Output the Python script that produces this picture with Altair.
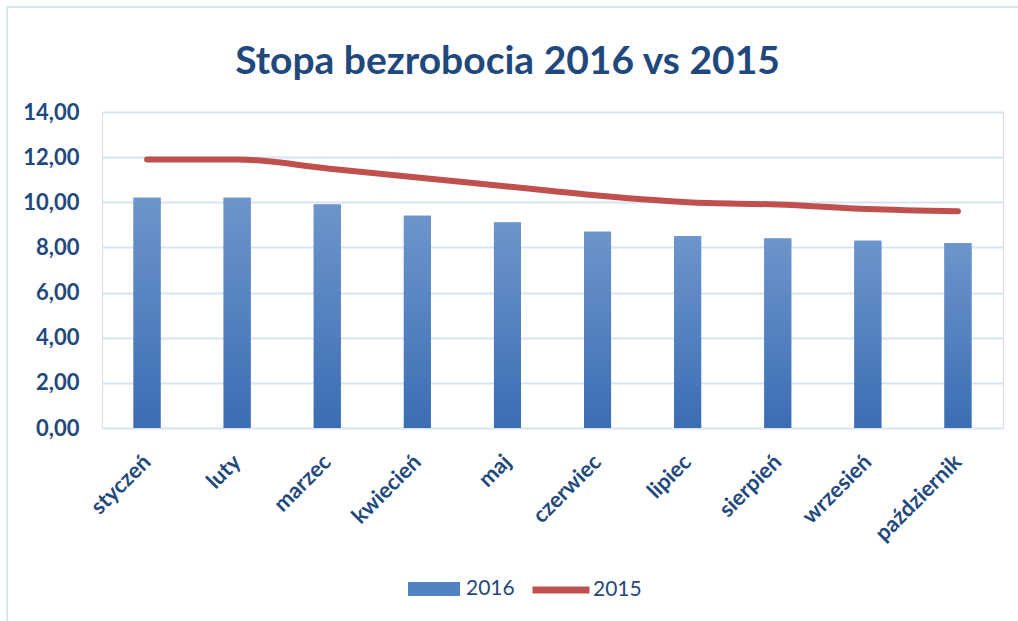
import altair as alt
import pandas as pd

months = ["styczeń", "luty", "marzec", "kwiecień", "maj", "czerwiec",
          "lipiec", "sierpień", "wrzesień", "październik"]
v2016 = [10.2, 10.2, 9.9, 9.4, 9.1, 8.7, 8.5, 8.4, 8.3, 8.2]
v2015 = [11.9, 11.9, 11.5, 11.1, 10.7, 10.3, 10.0, 9.9, 9.7, 9.6]
y_ticks = [0, 2, 4, 6, 8, 10, 12, 14]

df16 = pd.DataFrame({"miesiac": months, "wartosc": v2016, "seria": "2016"})
df15 = pd.DataFrame({"miesiac": months, "wartosc": v2015, "seria": "2015"})

DARK = "#1F497D"
FONT = "Lato"

x_enc = alt.X("miesiac:N", sort=months, title=None,
              axis=alt.Axis(labelAngle=-45, labelFont=FONT, labelFontSize=22,
                            labelFontWeight="bold", labelColor=DARK,
                            labelPadding=30, ticks=False, domain=False,
                            grid=False, labelAlign="right", labelBaseline="middle"))
y_enc = alt.Y("wartosc:Q", title=None,
              scale=alt.Scale(domain=[0, 14], nice=False),
              axis=alt.Axis(values=y_ticks, labelFont=FONT, labelFontSize=22,
                            labelFontWeight="bold", labelColor=DARK,
                            labelPadding=23, ticks=False, domain=False,
                            gridColor="#D9E3F3", gridWidth=2,
                            labelExpr="replace(format(datum.value, '.2f'), '.', ',')"))

frame = alt.Chart(pd.DataFrame({"a": [0]})).mark_rect(
    filled=False, stroke="#DAE5F5", strokeWidth=2
).encode(x=alt.value(-95), x2=alt.value(940), y=alt.value(-105), y2=alt.value(540))

bars_legend = alt.Chart(df16).mark_bar(size=27).encode(
    x=x_enc, y=y_enc,
    fill=alt.Fill("seria:N", scale=alt.Scale(domain=["2016"], range=["#5182C3"]),
                  legend=alt.Legend(title=None, orient="none", legendX=306, legendY=451,
                                    symbolType="M-1,-0.27L1,-0.27L1,0.27L-1,0.27Z",
                                    symbolSize=2704, symbolStrokeWidth=0,
                                    labelFont=FONT, labelFontSize=21, labelColor=DARK,
                                    labelOffset=6))
)

grad = alt.LinearGradient(gradient="linear",
                          stops=[alt.GradientStop(color="#6D95CC", offset=0),
                                 alt.GradientStop(color="#3B6DB4", offset=1)],
                          x1=0, x2=0, y1=0, y2=1)
bars = alt.Chart(df16).mark_bar(size=27, color=grad).encode(x=x_enc, y=y_enc)

line = alt.Chart(df15).mark_line(strokeWidth=6, interpolate="monotone", strokeCap="round").encode(
    x=x_enc, y=y_enc,
    stroke=alt.Stroke("seria:N", scale=alt.Scale(domain=["2015"], range=["#C0504D"]),
                      legend=alt.Legend(title=None, orient="none", legendX=427, legendY=446,
                                        symbolType="stroke", symbolSize=3249,
                                        symbolStrokeWidth=7,
                                        labelFont=FONT, labelFontSize=21, labelColor=DARK,
                                        labelOffset=0))
)

chart = alt.layer(frame, bars_legend, bars, line).resolve_legend(
    fill="independent", stroke="independent"
).properties(
    width=901, height=316,
    padding={"left": 102, "top": 112, "right": 15, "bottom": 193},
    autosize=alt.AutoSizeParams(type="none"),
    title=alt.TitleParams("Stopa bezrobocia 2016 vs 2015", font=FONT, fontSize=39,
                          fontWeight="bold", color=DARK, anchor="middle",
                          dx=-45, offset=-107, baseline="alphabetic"),
).configure_view(stroke=None).configure(background="white")

chart.save("out.html", embed_options={"renderer": "svg", "actions": False})
